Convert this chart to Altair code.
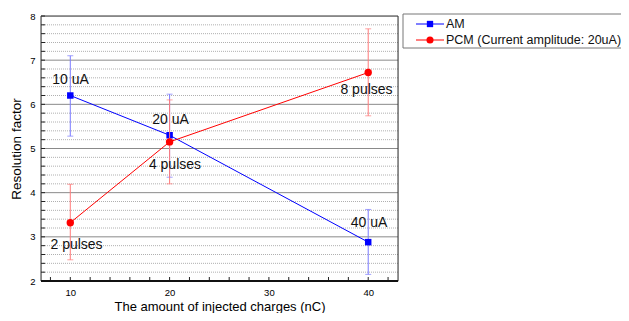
import altair as alt
import pandas as pd
import numpy as np

# ---- data ----
charges = [10, 20, 40]
am_val = [6.20, 5.30, 2.88]
am_lo = [5.28, 4.35, 2.15]
am_hi = [7.10, 6.23, 3.62]
pcm_val = [3.32, 5.15, 6.72]
pcm_lo = [2.48, 4.20, 5.74]
pcm_hi = [4.19, 6.10, 7.71]
series = ["AM", "PCM (Current amplitude: 20uA)"]
ann_text = ["10 uA", "20 uA", "40 uA", "2 pulses", "4 pulses", "8 pulses"]
ann_x = [10.02, 20.09, 40.08, 10.63, 20.54, 39.83]
ann_y = [6.55, 5.65, 3.31, 2.82, 4.63, 6.32]
x_major = [10, 20, 30, 40]
x_minor = list(range(8, 43, 2))
y_major = [2, 3, 4, 5, 6, 7, 8]
y_minor = [round(v, 1) for v in np.arange(2.2, 8.0, 0.2) if abs(v - round(v)) > 1e-6]

W, H = 357, 265
XD = [7.05, 43.0]
YD = [2, 8]
FONT = "Liberation Sans"

am = pd.DataFrame({"x": charges, "y": am_val, "lo": am_lo, "hi": am_hi, "s": series[0]})
pcm = pd.DataFrame({"x": charges, "y": pcm_val, "lo": pcm_lo, "hi": pcm_hi, "s": series[1]})

xs = alt.Scale(domain=XD, nice=False, zero=False)
ys = alt.Scale(domain=YD, nice=False, zero=False)

xax = alt.Axis(values=x_major, grid=False, ticks=False, domain=False, labelFontSize=9.5,
               labelPadding=6, labelColor="#000", title="The amount of injected charges (nC)",
               titleFontSize=13, titleFontWeight="normal", titleColor="#000", titleFont=FONT,
               labelFont=FONT, titleY=29, titleBaseline="alphabetic")
yax = alt.Axis(values=y_major, grid=False, ticks=False, domain=False, labelFontSize=9.5,
               labelPadding=6, labelColor="#000", title="Resolution factor",
               titleFontSize=13.5, titleFontWeight="normal", titleColor="#000", titleFont=FONT,
               labelFont=FONT, titleX=-25, titleY=H / 2, titleBaseline="middle", titleAlign="center",
               titleAngle=270)

base_axes = alt.Chart(pd.DataFrame({"x": [XD[0]], "y": [YD[0]]})).mark_point(opacity=0).encode(
    x=alt.X("x:Q", scale=xs, axis=xax), y=alt.Y("y:Q", scale=ys, axis=yax))

minor_grid = alt.Chart(pd.DataFrame({"y": y_minor})).mark_rule(
    color="#b0b0b0", strokeDash=[1, 1], strokeWidth=1).encode(y=alt.Y("y:Q", scale=ys))
major_grid = alt.Chart(pd.DataFrame({"y": y_major[1:-1]})).mark_rule(
    color="#8a8a8a", strokeWidth=1).encode(y=alt.Y("y:Q", scale=ys))

# inward ticks
xt_minor = alt.Chart(pd.DataFrame({"x": x_minor})).mark_rule(color="#222", strokeWidth=1).encode(
    x=alt.X("x:Q", scale=xs), y=alt.value(H), y2=alt.value(H - 4))
yt_minor = alt.Chart(pd.DataFrame({"y": y_minor + y_major})).mark_rule(color="#222", strokeWidth=1).encode(
    y=alt.Y("y:Q", scale=ys), x=alt.value(0), x2=alt.value(4))

frame = alt.Chart(pd.DataFrame({"a": [0]})).mark_rect(
    fill=None, stroke="#333", strokeWidth=1).encode(
    x=alt.value(0), x2=alt.value(W), y=alt.value(0), y2=alt.value(H))
bottom = alt.Chart(pd.DataFrame({"a": [0]})).mark_rule(color="#111", strokeWidth=2).encode(
    x=alt.value(0), x2=alt.value(W), y=alt.value(H))


def series_layers(df, color, light, shape, size):
    err = alt.Chart(df).mark_rule(color=light, strokeWidth=1).encode(
        x=alt.X("x:Q", scale=xs), y=alt.Y("lo:Q", scale=ys), y2="hi:Q")
    cap_lo = alt.Chart(df).mark_tick(color=light, orient="horizontal", size=6, thickness=1).encode(
        x=alt.X("x:Q", scale=xs), y=alt.Y("lo:Q", scale=ys))
    cap_hi = alt.Chart(df).mark_tick(color=light, orient="horizontal", size=6, thickness=1).encode(
        x=alt.X("x:Q", scale=xs), y=alt.Y("hi:Q", scale=ys))
    line = alt.Chart(df).mark_line(color=color, strokeWidth=1).encode(
        x=alt.X("x:Q", scale=xs), y=alt.Y("y:Q", scale=ys))
    pts = alt.Chart(df).mark_point(color=color, filled=True, opacity=1, shape=shape, size=size).encode(
        x=alt.X("x:Q", scale=xs), y=alt.Y("y:Q", scale=ys))
    return [err, cap_lo, cap_hi, line, pts]


ann = pd.DataFrame({"t": ann_text, "x": ann_x, "y": ann_y})
ann_layer = alt.Chart(ann).mark_text(font=FONT, fontSize=14, color="#111", align="center",
                                     baseline="middle").encode(
    x=alt.X("x:Q", scale=xs), y=alt.Y("y:Q", scale=ys), text="t:N")

# legend (drawn manually)
LX = 362
leg_box = alt.Chart(pd.DataFrame({"a": [0]})).mark_rect(
    fill="white", stroke="#777", strokeWidth=1).encode(
    x=alt.value(LX), x2=alt.value(600), y=alt.value(-2), y2=alt.value(32))
leg = pd.DataFrame({"s": series, "py": [8, 24], "c": ["#0000ff", "#ff0000"]})
leg_lines = []
for i, (shape, size) in enumerate([("square", 40), ("circle", 50)]):
    d = leg.iloc[[i]]
    leg_lines.append(alt.Chart(d).mark_rule(color=leg.c[i], strokeWidth=1).encode(
        x=alt.value(LX + 13), x2=alt.value(LX + 41), y=alt.value(int(leg.py[i]))))
    leg_lines.append(alt.Chart(d).mark_point(color=leg.c[i], filled=True, opacity=1, shape=shape,
                                             size=size).encode(
        x=alt.value(LX + 27), y=alt.value(int(leg.py[i]))))
leg_text = alt.Chart(leg).mark_text(font=FONT, fontSize=12.5, color="#111", align="left",
                                    baseline="middle").encode(
    x=alt.value(LX + 43), y=alt.Y("py:Q", scale=None), text="s:N")

layers = ([base_axes, minor_grid, major_grid, xt_minor, yt_minor]
          + series_layers(am, "#0000ff", "#7a7aff", "square", 42)
          + series_layers(pcm, "#ff0000", "#ff7a7a", "circle", 55)
          + [ann_layer, frame, bottom, leg_box] + leg_lines + [leg_text])

chart = alt.layer(*layers).properties(
    width=W, height=H,
    autosize=alt.AutoSizeParams(type="none"),
    padding={"left": 33, "top": 8, "right": 223, "bottom": 32},
).configure_view(stroke=None).configure(background="white")

chart.save("out.html", embed_options={"renderer": "svg", "actions": False})
